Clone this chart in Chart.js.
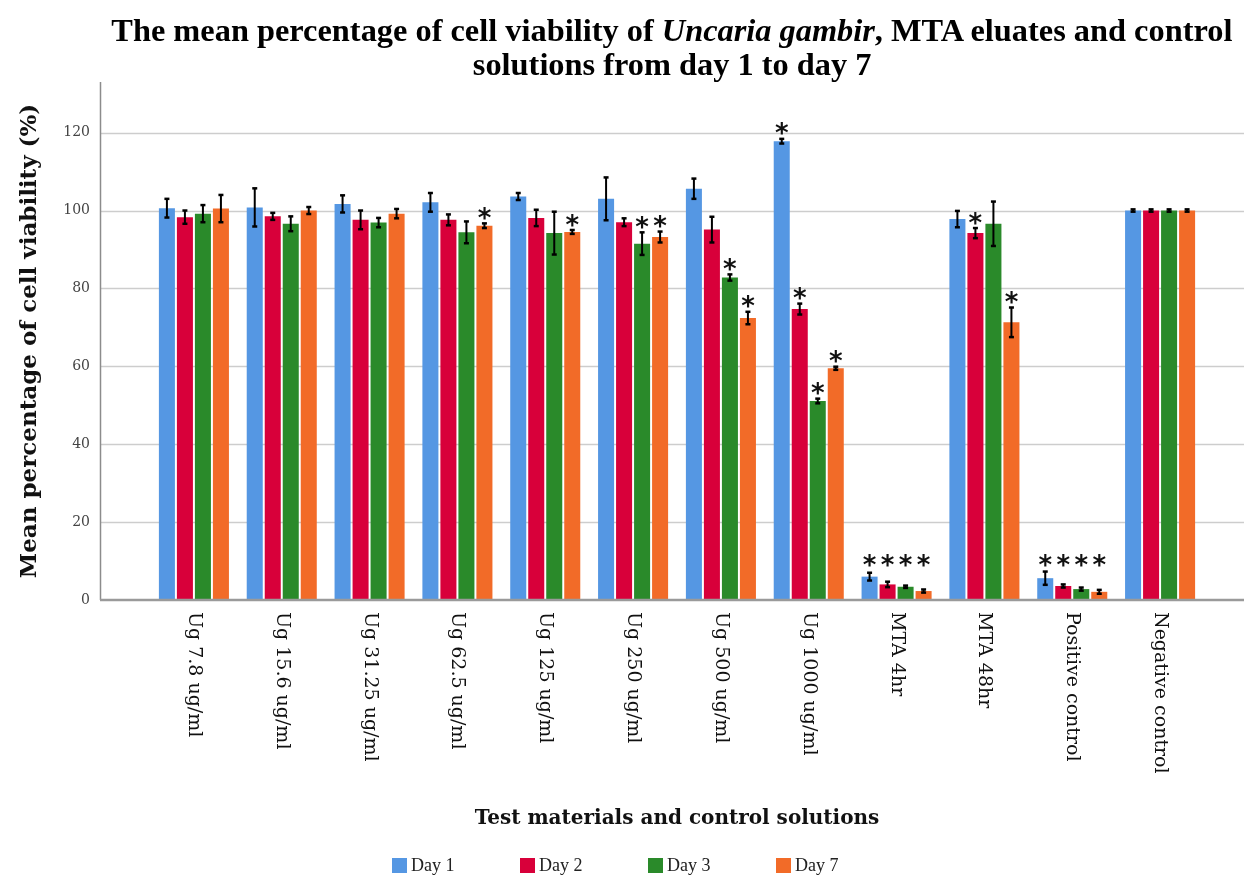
<!DOCTYPE html>
<html>
<head>
<meta charset="utf-8">
<script src="https://cdn.jsdelivr.net/npm/chart.js@4.4.0/dist/chart.umd.min.js"></script>
<style>
  html, body { margin: 0; padding: 0; background: #fff; }
  #wrap { position: relative; width: 1244px; height: 881px; }
  canvas { position: absolute; left: 0; top: 0; }
  #title {
    position: absolute; left: 100px; right: 0; top: 13px;
    text-align: center; color: #000;
    font: bold 32.5px "Liberation Serif", serif; line-height: 34px;
  }
  #title span { display: inline-block; white-space: nowrap; }
  #legend { position: absolute; top: 857px; left: 0; width: 1244px; height: 20px;
    font: 18px "Liberation Serif", serif; color: #222; }
  #legend div { position: absolute; top: 0; display: flex; align-items: center; height: 17px; }
  #legend i { display: inline-block; width: 15px; height: 15px; margin-right: 4px; }
</style>
</head>
<body>
<div id="wrap">
  <canvas id="c" width="1244" height="881"></canvas>
  <div id="title">
    <span>The mean percentage of cell viability of <i>Uncaria gambir</i>, MTA eluates and control</span><br>
    <span>solutions from day 1 to day 7</span>
  </div>
  <div id="legend"></div>
</div>
<script>
// data
const categories = ['Ug 7.8 ug/ml', 'Ug 15.6 ug/ml', 'Ug 31.25 ug/ml', 'Ug 62.5 ug/ml', 'Ug 125 ug/ml',
  'Ug 250 ug/ml', 'Ug 500 ug/ml', 'Ug 1000 ug/ml', 'MTA 4hr', 'MTA 48hr', 'Positive control', 'Negative control'];
const seriesNames = ['Day 1', 'Day 2', 'Day 3', 'Day 7'];

const day1 = [100.6, 100.8, 101.7, 102.1, 103.6, 103.0, 105.6, 117.8, 6.0, 97.8, 5.6, 100];
const day2 = [98.3, 98.5, 97.6, 97.6, 98.1, 97.0, 95.1, 74.7, 4.0, 94.2, 3.6, 100];
const day3 = [99.2, 96.6, 96.9, 94.4, 94.2, 91.5, 82.8, 51.1, 3.4, 96.6, 2.8, 100];
const day7 = [100.5, 100.0, 99.2, 96.1, 94.5, 93.2, 72.4, 59.5, 2.3, 71.3, 2.1, 100];

const day1Err = [2.4, 4.9, 2.2, 2.4, 0.9, 5.5, 2.6, 0.6, 1.0, 2.1, 1.7, 0.3];
const day2Err = [1.7, 0.9, 2.4, 1.4, 2.1, 1.0, 3.3, 1.4, 0.7, 1.3, 0.4, 0.3];
const day3Err = [2.2, 1.9, 1.2, 2.8, 5.5, 2.9, 0.8, 0.6, 0.3, 5.7, 0.4, 0.3];
const day7Err = [3.5, 0.9, 1.2, 0.6, 0.5, 1.4, 1.6, 0.4, 0.4, 3.8, 0.5, 0.3];

// * = significant difference
const day1Sig = [0, 0, 0, 0, 0, 0, 0, 1, 1, 0, 1, 0];
const day2Sig = [0, 0, 0, 0, 0, 0, 0, 1, 1, 1, 1, 0];
const day3Sig = [0, 0, 0, 0, 0, 1, 1, 1, 1, 0, 1, 0];
const day7Sig = [0, 0, 0, 1, 1, 1, 1, 1, 1, 1, 1, 0];

const yTicks = [0, 20, 40, 60, 80, 100, 120];

const colors = ['#5597e3', '#d8003a', '#2a8a2a', '#f26b28'];
const values = [day1, day2, day3, day7];
const errors = [day1Err, day2Err, day3Err, day7Err];
const sigs = [day1Sig, day2Sig, day3Sig, day7Sig];

const AXIS_X = 100;

function line(ctx, x1, y1, x2, y2) {
  ctx.beginPath(); ctx.moveTo(x1, y1); ctx.lineTo(x2, y2); ctx.stroke();
}

const extras = {
  id: 'extras',
  beforeDatasetsDraw(chart) {
    const { ctx, chartArea, scales: { y } } = chart;
    ctx.save();
    ctx.strokeStyle = '#cdcdcd';
    ctx.lineWidth = 1.5;
    y.ticks.forEach(t => {
      if (t.value === 0) return;
      const py = Math.round(y.getPixelForValue(t.value)) + 0.5;
      line(ctx, AXIS_X, py, chart.width, py);
    });
    ctx.strokeStyle = '#8c8c8c';
    ctx.lineWidth = 1.5;
    line(ctx, AXIS_X + 0.5, chartArea.top, AXIS_X + 0.5, y.getPixelForValue(0));
    ctx.restore();
  },
  afterDatasetsDraw(chart) {
    const { ctx, scales: { y } } = chart;
    ctx.save();
    const y0 = y.getPixelForValue(0);
    ctx.strokeStyle = '#9a9a9a';
    ctx.lineWidth = 2.5;
    line(ctx, AXIS_X, y0, chart.width, y0);

    ctx.strokeStyle = '#000';
    ctx.fillStyle = '#111';
    ctx.font = 'bold 26px "DejaVu Sans", sans-serif';
    const m = ctx.measureText('*');
    const mid = (m.actualBoundingBoxAscent - m.actualBoundingBoxDescent) / 2;
    ctx.textAlign = 'center';
    chart.data.datasets.forEach((ds, d) => {
      const meta = chart.getDatasetMeta(d);
      meta.data.forEach((bar, i) => {
        const v = values[d][i], e = errors[d][i];
        const top = y.getPixelForValue(v + e);
        const bot = y.getPixelForValue(v - e);
        ctx.lineWidth = 2;
        line(ctx, bar.x, top, bar.x, bot);
        ctx.lineWidth = 2.5;
        line(ctx, bar.x - 2.5, top, bar.x + 2.5, top);
        line(ctx, bar.x - 2.5, bot, bar.x + 2.5, bot);
        if (sigs[d][i]) {
          const cy = Math.min(top, y.getPixelForValue(7.5)) - 10;
          ctx.fillText('*', bar.x, cy + mid);
        }
      });
    });
    ctx.restore();
  },
  afterDraw(chart) {
    const { ctx, scales: { x, y } } = chart;
    ctx.save();
    ctx.font = '19px "DejaVu Serif", serif';
    ctx.fillStyle = '#111';
    ctx.textAlign = 'left';
    ctx.textBaseline = 'middle';
    categories.forEach((c, i) => {
      ctx.save();
      ctx.translate(x.getPixelForValue(i), y.getPixelForValue(0) + 12);
      ctx.rotate(Math.PI / 2);
      ctx.fillText(c, 0, 0);
      ctx.restore();
    });
    ctx.restore();
  }
};

new Chart(document.getElementById('c'), {
  type: 'bar',
  data: {
    labels: categories,
    datasets: seriesNames.map((n, d) => ({
      label: n,
      data: values[d],
      backgroundColor: colors[d],
      borderWidth: 0,
      categoryPercentage: 0.82,
      barPercentage: 0.89
    }))
  },
  options: {
    responsive: false,
    animation: false,
    layout: { padding: { left: 0, right: 40, top: 82, bottom: 0 } },
    plugins: {
      title: { display: false },
      tooltip: { enabled: false },
      legend: { display: false }
    },
    scales: {
      x: {
        ticks: { display: false },
        grid: { display: false, drawTicks: false },
        border: { display: false },
        title: {
          display: true, text: 'Test materials and control solutions', color: '#111',
          font: { family: '"DejaVu Serif", serif', size: 20, weight: 'bold' },
          padding: { top: 0, bottom: 50 }
        },
        afterFit(s) { s.height = 281; }
      },
      y: {
        min: 0, max: 133,
        ticks: {
          stepSize: 20, padding: 60, color: '#444',
          font: { family: '"DejaVu Serif", serif', size: 14 }
        },
        afterBuildTicks(s) { s.ticks = s.ticks.filter(t => yTicks.includes(t.value)); },
        grid: { display: false, drawTicks: false },
        border: { display: false },
        title: {
          display: true, text: 'Mean percentage of cell viability (%)', color: '#111',
          font: { family: '"DejaVu Serif", serif', size: 23, weight: 'bold' },
          padding: { top: 16, bottom: 0 }
        },
        afterFit(s) { s.width = 150; }
      }
    }
  },
  plugins: [extras]
});

// legend, same colours as the datasets
const legendX = [392, 520, 648, 776];
const legend = document.getElementById('legend');
seriesNames.forEach((n, d) => {
  const item = document.createElement('div');
  item.style.left = legendX[d] + 'px';
  item.innerHTML = '<i style="background:' + colors[d] + '"></i>' + n;
  legend.appendChild(item);
});

// fit the first title line to the width of the original
(function () {
  const c = document.createElement('canvas').getContext('2d');
  c.font = 'bold 32.5px "Liberation Serif", serif';
  const w = c.measureText('The mean percentage of cell viability of Uncaria gambir, MTA eluates and control').width;
  const k = 1127 / w;
  document.querySelectorAll('#title span').forEach(s => { s.style.transform = 'scaleX(' + k + ')'; });
})();
</script>
</body>
</html>
